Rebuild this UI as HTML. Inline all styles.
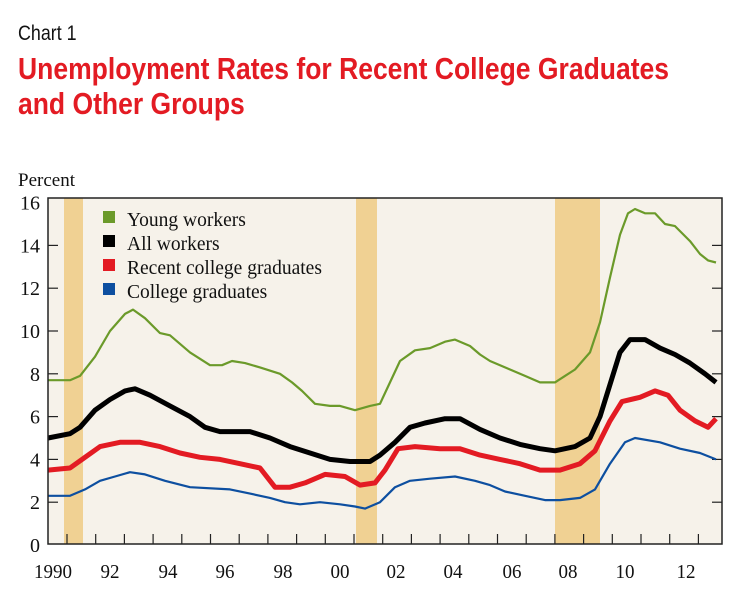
<!DOCTYPE html>
<html><head><meta charset="utf-8"><style>
body{margin:0;background:#fff;width:750px;height:593px;overflow:hidden;position:relative;font-family:"Liberation Serif",serif}
.h{position:absolute;left:18px;font-family:"Liberation Sans Narrow","Liberation Sans",sans-serif;transform-origin:0 0;white-space:nowrap}
</style></head><body>
<div class="h" style="top:22px;font-size:21px;color:#111;transform:scaleX(0.85)">Chart 1</div>
<div class="h" style="top:51px;font-size:31px;font-weight:bold;color:#e31b23;line-height:35px;transform:scaleX(0.855)">Unemployment Rates for Recent College Graduates<br>and Other Groups</div>
<svg width="750" height="593" style="position:absolute;left:0;top:0" font-family="Liberation Serif, serif">
<text x="18" y="186" font-size="19" fill="#111">Percent</text>
<rect x="48" y="198" width="674" height="346" fill="#f6f2ea"/>
<rect x="64" y="198" width="19" height="346" fill="#f0d193"/>
<rect x="356" y="198" width="21" height="346" fill="#f0d193"/>
<rect x="555" y="198" width="45" height="346" fill="#f0d193"/>
<g id="ticks" stroke="#222" stroke-width="1.2"></g>
<g id="series" fill="none" stroke-linejoin="round"></g>
<rect x="48" y="198" width="674" height="346" fill="none" stroke="#222" stroke-width="1.5"/>
<g font-size="20" fill="#111" id="labels"></g>
<g font-size="19.5" fill="#111">
<rect x="103" y="211" width="12" height="12" fill="#6b9a2a"/><text x="127" y="226">Young workers</text>
<rect x="103" y="235" width="12" height="12" fill="#000"/><text x="127" y="250">All workers</text>
<rect x="103" y="259" width="12" height="12" fill="#e31b23"/><text x="127" y="274">Recent college graduates</text>
<rect x="103" y="283" width="12" height="12" fill="#0d4fa0"/><text x="127" y="298">College graduates</text>
</g>
</svg>
<script>
const Y=v=>545-21.4*v;
const ns="http://www.w3.org/2000/svg";
function el(p,t,a,txt){const e=document.createElementNS(ns,t);for(const k in a)e.setAttribute(k,a[k]);if(txt!==undefined)e.textContent=txt;p.appendChild(e);return e;}
const tk=document.getElementById('ticks'),lb=document.getElementById('labels');
for(let v=0;v<=16;v+=2){const y=Y(v);if(v>0&&v<16){el(tk,'line',{x1:48,x2:58,y1:y,y2:y});el(tk,'line',{x1:712,x2:722,y1:y,y2:y});}
el(lb,'text',{x:40,y:y+7,'text-anchor':'end'},String(v));}
for(let i=0;i<23;i++){const x=67+i*28.7;el(tk,'line',{x1:x,x2:x,y1:534,y2:544});}
const xl=["1990","92","94","96","98","00","02","04","06","08","10","12"],xp=[53,110,168,225,283,340,396,453,512,568,625,686];
xl.forEach((s,i)=>el(lb,'text',{x:xp[i],y:578,'text-anchor':'middle','textLength':s.length*9.5,lengthAdjust:'spacingAndGlyphs'},s));
const S=[
["#6b9a2a",2.2,[48,7.7,70,7.7,80,7.9,95,8.8,110,10,125,10.8,133,11,145,10.6,160,9.9,170,9.8,190,9,210,8.4,222,8.4,232,8.6,245,8.5,260,8.3,280,8,292,7.6,302,7.2,315,6.6,330,6.5,340,6.5,355,6.3,370,6.5,380,6.6,390,7.6,400,8.6,415,9.1,430,9.2,445,9.5,455,9.6,470,9.3,480,8.9,490,8.6,510,8.2,525,7.9,540,7.6,555,7.6,565,7.9,575,8.2,590,9,600,10.4,610,12.5,620,14.5,628,15.5,635,15.7,645,15.5,655,15.5,665,15,675,14.9,690,14.2,700,13.6,708,13.3,716,13.2]],
["#000",5,[48,5,70,5.2,80,5.5,95,6.3,110,6.8,125,7.2,135,7.3,150,7,170,6.5,190,6,205,5.5,220,5.3,250,5.3,270,5,290,4.6,310,4.3,330,4,350,3.9,370,3.9,380,4.2,395,4.8,410,5.5,425,5.7,445,5.9,460,5.9,480,5.4,500,5,520,4.7,540,4.5,555,4.4,575,4.6,590,5,600,6,610,7.5,620,9,630,9.6,645,9.6,660,9.2,675,8.9,690,8.5,705,8,716,7.6]],
["#e31b23",5,[48,3.5,70,3.6,85,4.1,100,4.6,120,4.8,140,4.8,160,4.6,180,4.3,200,4.1,220,4,240,3.8,260,3.6,275,2.7,290,2.7,305,2.9,325,3.3,345,3.2,360,2.8,375,2.9,385,3.5,398,4.5,415,4.6,440,4.5,460,4.5,480,4.2,500,4,520,3.8,540,3.5,560,3.5,580,3.8,595,4.4,610,5.8,622,6.7,640,6.9,655,7.2,668,7,680,6.3,695,5.8,708,5.5,716,5.9]],
["#0d4fa0",2.2,[48,2.3,70,2.3,85,2.6,100,3,115,3.2,130,3.4,145,3.3,165,3,190,2.7,230,2.6,250,2.4,270,2.2,285,2,300,1.9,320,2,340,1.9,355,1.8,365,1.7,380,2,395,2.7,410,3,430,3.1,455,3.2,475,3,490,2.8,505,2.5,525,2.3,545,2.1,560,2.1,580,2.2,595,2.6,610,3.8,625,4.8,635,5,660,4.8,680,4.5,700,4.3,716,4]]];
const g=document.getElementById('series');
S.forEach(([c,w,d])=>{let p=[];for(let i=0;i<d.length;i+=2)p.push(d[i]+","+Y(d[i+1]).toFixed(1));el(g,'polyline',{points:p.join(" "),stroke:c,'stroke-width':w});});
</script>
</body></html>
